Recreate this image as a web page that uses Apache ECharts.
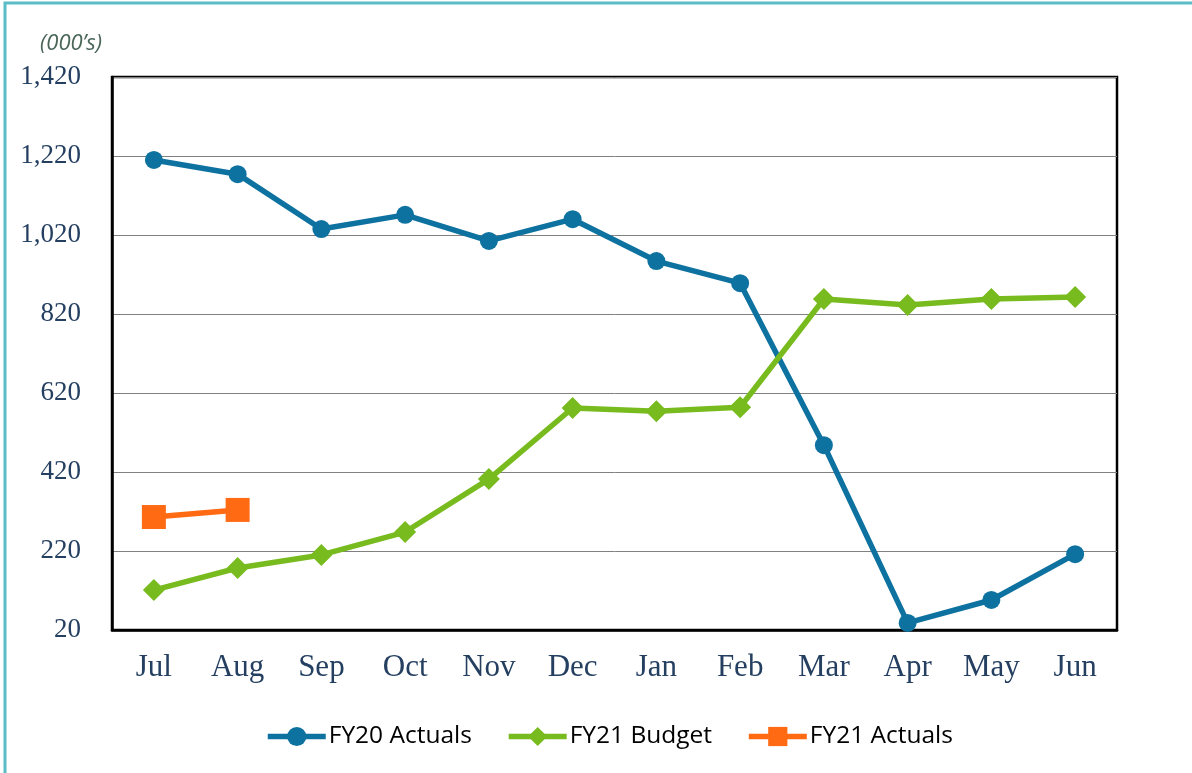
<!DOCTYPE html>
<html>
<head>
<meta charset="utf-8">
<script src="https://cdn.jsdelivr.net/npm/echarts@6/dist/echarts.min.js"></script>
<style>
  html, body { margin: 0; padding: 0; background: #fff; }
  #chart { width: 1192px; height: 773px; }
</style>
</head>
<body>
<div id="chart"></div>
<script>
  // months of the fiscal year
  const months = ['Jul', 'Aug', 'Sep', 'Oct', 'Nov', 'Dec', 'Jan', 'Feb', 'Mar', 'Apr', 'May', 'Jun']

  // values in thousands
  const fy20Actuals = [1210, 1174, 1035, 1071, 1005, 1060, 954, 898, 488, 38, 96, 212]
  const fy21Budget = [121, 177, 210, 268, 402, 582, 574, 584, 858, 843, 858, 863]
  const fy21Actuals = [306, 324, null, null, null, null, null, null, null, null, null, null]

  const yMin = 20
  const yMax = 1420
  const yStep = 200

  const labelFont = '"Liberation Serif", "DejaVu Serif", serif'
  const labelColor = '#243f60'

  const chartDom = document.getElementById('chart')
  const myChart = echarts.init(chartDom, null, { renderer: 'canvas' })

  const option = {
    backgroundColor: '#fff',
    animation: false,
    graphic: [
      {
        type: 'polyline',
        shape: { points: [[5, 773], [5, 3], [1192, 3]] },
        style: { stroke: '#5bbcc6', lineWidth: 3, fill: null }
      },
      {
        type: 'text',
        left: 40,
        top: 33,
        style: {
          text: '(000\u2019s)',
          font: 'italic 22px "Open Sans", "Noto Sans", sans-serif',
          fill: '#4a6659'
        }
      }
    ],
    grid: {
      left: 112,
      right: 75,
      top: 77,
      bottom: 143,
      show: true,
      borderColor: '#000',
      borderWidth: 2.5,
      backgroundColor: 'transparent'
    },
    legend: {
      bottom: 19,
      left: 260,
      itemGap: 34,
      itemWidth: 58,
      itemHeight: 24,
      lineStyle: { width: 5.5 },
      textStyle: {
        fontFamily: '"Open Sans", "Noto Sans", sans-serif',
        fontSize: 24.5,
        color: '#000',
        padding: [0, 0, 0, -2]
      },
      data: ['FY20 Actuals', 'FY21 Budget', 'FY21 Actuals']
    },
    xAxis: {
      type: 'category',
      data: months,
      boundaryGap: true,
      axisLine: { show: true, lineStyle: { color: '#000', width: 2.5 } },
      axisTick: { show: false },
      axisLabel: {
        margin: 22,
        fontFamily: labelFont,
        fontSize: 31,
        color: labelColor
      }
    },
    yAxis: {
      type: 'value',
      min: yMin,
      max: yMax,
      interval: yStep,
      axisLine: { show: true, lineStyle: { color: '#000', width: 2.5 } },
      axisTick: { show: false },
      splitLine: { show: true, lineStyle: { color: '#808080', width: 1 } },
      axisLabel: {
        margin: 31,
        fontFamily: labelFont,
        fontSize: 27,
        color: labelColor,
        formatter: (v) => v.toLocaleString('en-US')
      }
    },
    series: [
      {
        name: 'FY20 Actuals',
        type: 'line',
        data: fy20Actuals,
        symbol: 'circle',
        symbolSize: 18,
        lineStyle: { width: 5.5, color: '#0e72a0' },
        itemStyle: { color: '#0e72a0' },
        z: 3
      },
      {
        name: 'FY21 Budget',
        type: 'line',
        data: fy21Budget,
        symbol: 'diamond',
        symbolSize: [22, 22],
        lineStyle: { width: 5.5, color: '#78bb1f' },
        itemStyle: { color: '#78bb1f' },
        z: 4
      },
      {
        name: 'FY21 Actuals',
        type: 'line',
        data: fy21Actuals,
        symbol: 'rect',
        symbolSize: 24,
        lineStyle: { width: 5.5, color: '#ff6a13' },
        itemStyle: { color: '#ff6a13' },
        z: 5
      }
    ]
  }

  option && myChart.setOption(option)
</script>
</body>
</html>
